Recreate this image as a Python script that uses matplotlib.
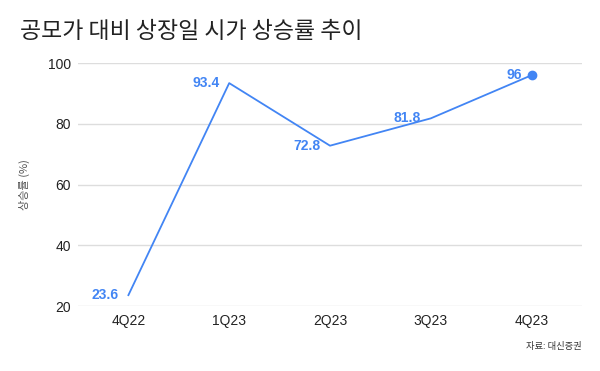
import matplotlib.pyplot as plt

QUARTERS = ['4Q22', '1Q23', '2Q23', '3Q23', '4Q23']
RISE = [23.6, 93.4, 72.8, 81.8, 96]
LABELS = ['23.6', '93.4', '72.8', '81.8', '96']
Y_TICKS = [20, 40, 60, 80, 100]

BLUE = '#4285F4'
FONTS = ['Liberation Sans', 'Noto Sans CJK KR']
KR = ['Noto Sans CJK KR', 'DejaVu Sans']


def main():
    plt.rcParams['font.family'] = FONTS
    fig = plt.figure(figsize=(6, 3.71), dpi=100)
    ax = fig.add_axes([0.13, 0.175, 0.84, 0.655])

    x = range(len(QUARTERS))
    ax.plot(x, RISE, '-', color=BLUE, lw=1.3)
    ax.plot(x[-1], RISE[-1], 'o', color=BLUE, ms=6)
    for i, (v, t) in enumerate(zip(RISE, LABELS)):
        ax.annotate(t, (i, v), xytext=(-7, 0), textcoords='offset points',
                    ha='right', va='center', color=BLUE, fontsize=10,
                    fontweight='bold')

    ax.set_xlim(-0.5, 4.5)
    ax.set_ylim(20, 100)
    ax.set_xticks(list(x))
    ax.set_xticklabels(QUARTERS)
    ax.set_yticks(Y_TICKS)
    ax.tick_params(length=0, labelsize=10, colors='#222222')
    ax.tick_params(axis='x', pad=6)
    ax.tick_params(axis='y', pad=5)
    ax.grid(axis='y', color='#dddddd', lw=1)
    ax.set_axisbelow(True)
    for s in ax.spines.values():
        s.set_visible(False)

    ax.set_ylabel('상승률 (%)', family=KR, fontsize=8, color='#555555',
                  labelpad=13)

    fig.text(0.033, 0.915, '공모가 대비 상장일 시가 상승률 추이', family=KR,
             fontsize=16.5, color='#222222', va='center')
    fig.text(0.877, 0.065, '자료: 대신증권', family=KR, fontsize=6.7,
             color='#333333', va='center')

    plt.savefig('out.png', dpi=100)


if __name__ == '__main__':
    main()
